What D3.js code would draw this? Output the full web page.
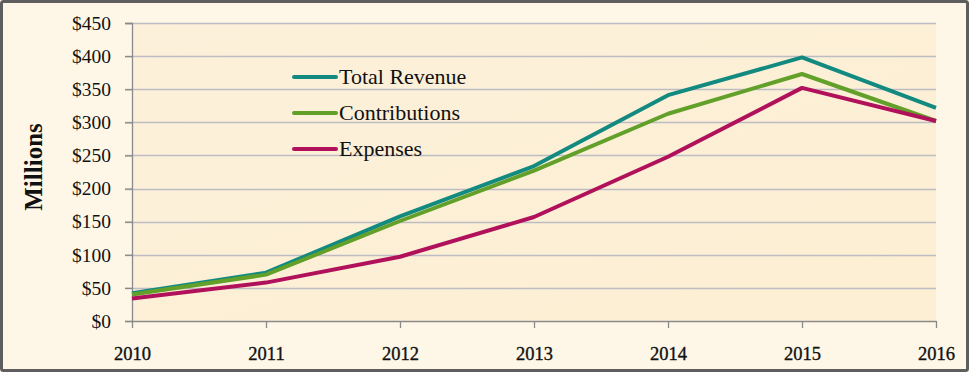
<!DOCTYPE html>
<html>
<head>
<meta charset="utf-8">
<script src="https://cdn.jsdelivr.net/npm/d3@7"></script>
<style>
  body { margin: 0; background: #fef7e7; }
  svg text { font-family: "Liberation Serif", "DejaVu Serif", serif; fill: #111; }
</style>
</head>
<body>
<div id="chart"></div>
<script>
const years = [2010, 2011, 2012, 2013, 2014, 2015, 2016];
const totalRevenue = [42, 73, 158, 234, 341, 398, 322];
const contributions = [40, 70, 151, 227, 313, 373, 302];
const expenses = [34, 58, 97, 157, 248, 352, 302];
const yTicks = [0, 50, 100, 150, 200, 250, 300, 350, 400, 450];

const seriesNames = ['Total Revenue', 'Contributions', 'Expenses'];
const seriesColors = ['#138a80', '#62a02a', '#b0115a'];
const seriesValues = [totalRevenue, contributions, expenses];

const W = 969, H = 372;
const margin = { top: 23, right: 33, bottom: 51, left: 132 };

const svg = d3.select('#chart').append('svg')
  .attr('width', W).attr('height', H);

// outer frame
svg.append('rect')
  .attr('x', 1.5).attr('y', 1.5)
  .attr('width', W - 3).attr('height', H - 3)
  .attr('rx', 2)
  .attr('fill', '#fef7e7')
  .attr('stroke', '#5e5e5e')
  .attr('stroke-width', 3);

const width = W - margin.left - margin.right;
const height = H - margin.top - margin.bottom;

const x = d3.scalePoint().domain(years).range([0, width]);
const y = d3.scaleLinear().domain([0, 450]).range([height, 0]);

const defs = svg.append('defs');
const grad = defs.append('linearGradient').attr('id', 'plotbg')
  .attr('x1', '0').attr('y1', '0').attr('x2', '1').attr('y2', '1');
grad.append('stop').attr('offset', '0%').attr('stop-color', '#fcf0da');
grad.append('stop').attr('offset', '100%').attr('stop-color', '#fcefd3');

const g = svg.append('g')
  .attr('transform', `translate(${margin.left},${margin.top})`);

g.append('rect')
  .attr('width', width).attr('height', height)
  .attr('fill', 'url(#plotbg)');

// gridlines with tick stubs
g.selectAll('.grid')
  .data(yTicks.filter(d => d > 0))
  .join('line')
  .attr('class', 'grid')
  .attr('x1', -7).attr('x2', width)
  .attr('y1', d => Math.round(y(d)) + 0.5)
  .attr('y2', d => Math.round(y(d)) + 0.5)
  .attr('stroke', '#bcbcc2')
  .attr('stroke-width', 1.3);

// y axis
const yAxis = g.append('g')
  .call(d3.axisLeft(y).tickValues(yTicks).tickSize(7).tickPadding(14)
    .tickFormat(d => '$' + d));
yAxis.select('.domain').attr('stroke', '#8a8a8a').attr('stroke-width', 1.3);
yAxis.selectAll('.tick line').attr('stroke', '#8a8a8a').attr('stroke-width', 1.3);
yAxis.selectAll('.tick text')
  .attr('font-size', 19.5)
  .style('font-family', '"Liberation Serif", serif')
  .attr('fill', '#111');

// x axis
const xAxis = g.append('g')
  .attr('transform', `translate(0,${height})`)
  .call(d3.axisBottom(x).tickSize(7).tickPadding(19).tickSizeOuter(0));
xAxis.select('.domain').attr('stroke', '#8a8a8a').attr('stroke-width', 1.3);
xAxis.selectAll('.tick line').attr('stroke', '#8a8a8a').attr('stroke-width', 1.3);
xAxis.selectAll('.tick text')
  .attr('font-size', 18.5)
  .attr('stroke', '#111')
  .attr('stroke-width', 0.35)
  .style('font-family', '"Liberation Serif", serif')
  .attr('fill', '#111');

// y axis title
svg.append('text')
  .attr('transform', `translate(42,167) rotate(-90)`)
  .attr('text-anchor', 'middle')
  .attr('font-size', 25)
  .attr('font-weight', 'bold')
  .text('Millions');

// lines
const line = d3.line()
  .x((d, i) => x(years[i]))
  .y(d => y(d));

g.selectAll('.series')
  .data(seriesValues)
  .join('path')
  .attr('class', 'series')
  .attr('fill', 'none')
  .attr('stroke', (d, i) => seriesColors[i])
  .attr('stroke-width', 4)
  .attr('stroke-linejoin', 'round')
  .attr('d', line);

// legend
const legend = svg.append('g').attr('transform', 'translate(294,77)');
legend.selectAll('line')
  .data(seriesNames)
  .join('line')
  .attr('x1', 0).attr('x2', 42)
  .attr('y1', (d, i) => i * 36).attr('y2', (d, i) => i * 36)
  .attr('stroke', (d, i) => seriesColors[i])
  .attr('stroke-width', 4)
  .attr('stroke-linecap', 'round');
legend.selectAll('text')
  .data(seriesNames)
  .join('text')
  .attr('x', 45)
  .attr('y', (d, i) => i * 36 + 6.5)
  .attr('font-size', 22)
  .text(d => d);
</script>
</body>
</html>
